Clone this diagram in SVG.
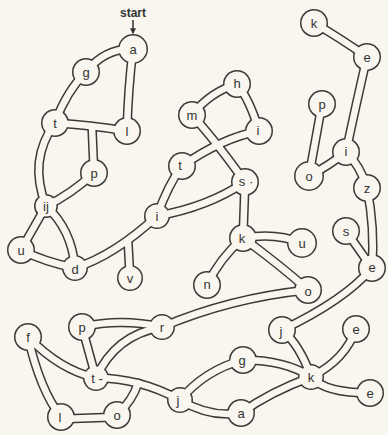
<svg xmlns="http://www.w3.org/2000/svg" xmlns:xlink="http://www.w3.org/1999/xlink" width="388" height="435" viewBox="0 0 388 435">
<style>
.bg{fill:#f8f6ee}
.outer{fill:none;stroke:#3a3a3a;stroke-width:9.5;stroke-linecap:round;stroke-linejoin:round}
.inner{fill:none;stroke:#f8f6ee;stroke-width:6.5;stroke-linecap:round;stroke-linejoin:round}
.rim{fill:#3a3a3a}
.node circle{fill:#f8f6ee}
.node text,.label{font-family:"Liberation Sans",Arial,sans-serif;font-size:13px;fill:#333;text-anchor:middle;dominant-baseline:central}
.label{font-size:12px;font-weight:bold}
.arrow{stroke:#333;stroke-width:1.5;fill:none}
</style>
<defs>
<marker id="ah" viewBox="0 0 10 10" refX="8" refY="5" markerWidth="6" markerHeight="6" orient="auto" markerUnits="userSpaceOnUse">
<path d="M0,0 L10,5 L0,10 z" fill="#333"/>
</marker>
</defs>
<rect class="bg" x="0" y="0" width="388" height="435"/>
<g class="outer">
<g id="connectors">
<path d="M86,72 Q105,48 133,49"/>
<path d="M133,49 Q128,90 127,131"/>
<path d="M86,72 Q66,92 55,123"/>
<path d="M55,123 Q90,125 127,131"/>
<path d="M94,173 L92,127"/>
<path d="M55,123 Q28,160 46,206"/>
<path d="M94,173 Q70,195 46,206"/>
<path d="M46,206 L21,250"/>
<path d="M46,206 Q72,230 75,268"/>
<path d="M21,250 Q45,262 75,268"/>
<path d="M75,268 Q115,255 157,216"/>
<path d="M130,278 L128,241"/>
<path d="M157,216 Q168,185 182,166"/>
<path d="M157,216 Q208,207 245,182"/>
<path d="M192,115 Q210,92 237,84"/>
<path d="M237,84 Q250,100 259,131"/>
<path d="M192,115 Q215,140 245,182"/>
<path d="M259,131 Q222,138 182,166"/>
<path d="M245,182 L243,238"/>
<path d="M243,238 Q275,232 302,243"/>
<path d="M243,238 Q220,258 207,285"/>
<path d="M243,238 Q280,265 308,290"/>
<path d="M308,290 Q230,298 162,327"/>
<path d="M314,23 Q340,38 367,57"/>
<path d="M367,57 Q357,100 346,152"/>
<path d="M322,104 L309,176"/>
<path d="M309,176 Q330,165 346,152"/>
<path d="M346,152 Q360,165 367,188"/>
<path d="M367,188 Q375,228 372,268"/>
<path d="M346,231 L372,268"/>
<path d="M372,268 Q345,300 282,330"/>
<path d="M282,330 Q300,345 311,377"/>
<path d="M356,329 Q345,360 311,377"/>
<path d="M311,377 Q325,393 370,393"/>
<path d="M243,360 Q285,360 311,377"/>
<path d="M241,413 Q270,392 311,377"/>
<path d="M243,360 Q205,370 180,400"/>
<path d="M241,413 Q210,418 180,400"/>
<path d="M96,378 Q140,378 180,400"/>
<path d="M117,415 Q133,400 138,383"/>
<path d="M96,378 L82,327"/>
<path d="M96,378 Q115,335 162,327"/>
<path d="M82,327 Q120,318 162,327"/>
<path d="M28,337 Q60,370 96,378"/>
<path d="M28,337 Q40,390 61,417"/>
<path d="M61,419 L117,417"/>
</g>
</g>
<g id="node-rims" class="rim">
<circle cx="133" cy="49" r="15"/>
<circle cx="86" cy="72" r="14"/>
<circle cx="55" cy="123" r="14"/>
<circle cx="127" cy="131" r="14"/>
<circle cx="94" cy="173" r="14"/>
<circle cx="46" cy="206" r="12"/>
<circle cx="21" cy="250" r="14"/>
<circle cx="75" cy="268" r="13"/>
<circle cx="130" cy="278" r="13"/>
<circle cx="157" cy="216" r="13"/>
<circle cx="182" cy="166" r="14"/>
<circle cx="192" cy="115" r="14"/>
<circle cx="237" cy="84" r="14"/>
<circle cx="259" cy="131" r="14"/>
<circle cx="245" cy="182" r="14"/>
<circle cx="243" cy="238" r="14"/>
<circle cx="302" cy="243" r="15"/>
<circle cx="207" cy="285" r="14"/>
<circle cx="308" cy="290" r="14"/>
<circle cx="314" cy="23" r="14"/>
<circle cx="367" cy="57" r="14"/>
<circle cx="322" cy="104" r="14"/>
<circle cx="346" cy="152" r="14"/>
<circle cx="309" cy="176" r="15"/>
<circle cx="367" cy="188" r="14"/>
<circle cx="346" cy="231" r="14"/>
<circle cx="372" cy="268" r="14"/>
<circle cx="282" cy="330" r="14"/>
<circle cx="356" cy="329" r="14"/>
<circle cx="311" cy="377" r="13"/>
<circle cx="370" cy="393" r="14"/>
<circle cx="243" cy="360" r="14"/>
<circle cx="241" cy="413" r="14"/>
<circle cx="180" cy="400" r="13"/>
<circle cx="117" cy="415" r="14"/>
<circle cx="61" cy="417" r="14"/>
<circle cx="28" cy="337" r="14"/>
<circle cx="82" cy="327" r="14"/>
<circle cx="96" cy="378" r="13"/>
<circle cx="162" cy="327" r="13"/>
</g>
<use xlink:href="#connectors" href="#connectors" class="inner"/>
<g id="nodes">
<g id="node-a" class="node"><circle cx="133" cy="49" r="13.5"/><text x="133" y="49">a</text></g>
<g id="node-g" class="node"><circle cx="86" cy="72" r="12.5"/><text x="86" y="72">g</text></g>
<g id="node-t1" class="node"><circle cx="55" cy="123" r="12.5"/><text x="55" y="123">t</text></g>
<g id="node-l1" class="node"><circle cx="127" cy="131" r="12.5"/><text x="127" y="131">l</text></g>
<g id="node-p1" class="node"><circle cx="94" cy="173" r="12.5"/><text x="94" y="173">p</text></g>
<g id="node-ij" class="node"><circle cx="46" cy="206" r="10.5"/><text x="46" y="206">ij</text></g>
<g id="node-u1" class="node"><circle cx="21" cy="250" r="12.5"/><text x="21" y="250">u</text></g>
<g id="node-d" class="node"><circle cx="75" cy="268" r="11.5"/><text x="75" y="269">d</text></g>
<g id="node-v" class="node"><circle cx="130" cy="278" r="11.5"/><text x="130" y="278">v</text></g>
<g id="node-i1" class="node"><circle cx="157" cy="216" r="11.5"/><text x="157" y="216">i</text></g>
<g id="node-t2" class="node"><circle cx="182" cy="166" r="12.5"/><text x="180" y="165">t</text></g>
<g id="node-m" class="node"><circle cx="192" cy="115" r="12.5"/><text x="192" y="115">m</text></g>
<g id="node-h" class="node"><circle cx="237" cy="84" r="12.5"/><text x="237" y="83">h</text></g>
<g id="node-i2" class="node"><circle cx="259" cy="131" r="12.5"/><text x="258" y="130">i</text></g>
<g id="node-s1" class="node"><circle cx="245" cy="182" r="12.5"/><text x="246" y="181">s ·</text></g>
<g id="node-k1" class="node"><circle cx="243" cy="238" r="12.5"/><text x="242" y="238">k</text></g>
<g id="node-u2" class="node"><circle cx="302" cy="243" r="13.5"/><text x="302" y="243">u</text></g>
<g id="node-n" class="node"><circle cx="207" cy="285" r="12.5"/><text x="207" y="284">n</text></g>
<g id="node-o1" class="node"><circle cx="308" cy="290" r="12.5"/><text x="308" y="291">o</text></g>
<g id="node-k2" class="node"><circle cx="314" cy="23" r="12.5"/><text x="314" y="23">k</text></g>
<g id="node-e1" class="node"><circle cx="367" cy="57" r="12.5"/><text x="367" y="57">e</text></g>
<g id="node-p2" class="node"><circle cx="322" cy="104" r="12.5"/><text x="322" y="104">p</text></g>
<g id="node-i3" class="node"><circle cx="346" cy="152" r="12.5"/><text x="346" y="151">i</text></g>
<g id="node-o2" class="node"><circle cx="309" cy="176" r="13.5"/><text x="309" y="176">o</text></g>
<g id="node-z" class="node"><circle cx="367" cy="188" r="12.5"/><text x="367" y="188">z</text></g>
<g id="node-s2" class="node"><circle cx="346" cy="231" r="12.5"/><text x="346" y="231">s</text></g>
<g id="node-e2" class="node"><circle cx="372" cy="268" r="12.5"/><text x="372" y="267">e</text></g>
<g id="node-j1" class="node"><circle cx="282" cy="330" r="12.5"/><text x="281" y="331">j</text></g>
<g id="node-e3" class="node"><circle cx="356" cy="329" r="12.5"/><text x="356" y="329">e</text></g>
<g id="node-k3" class="node"><circle cx="311" cy="377" r="11.5"/><text x="311" y="377">k</text></g>
<g id="node-e4" class="node"><circle cx="370" cy="393" r="12.5"/><text x="370" y="393">e</text></g>
<g id="node-g2" class="node"><circle cx="243" cy="360" r="12.5"/><text x="242" y="360">g</text></g>
<g id="node-a2" class="node"><circle cx="241" cy="413" r="12.5"/><text x="241" y="413">a</text></g>
<g id="node-j2" class="node"><circle cx="180" cy="400" r="11.5"/><text x="178" y="400">j</text></g>
<g id="node-o3" class="node"><circle cx="117" cy="415" r="12.5"/><text x="117" y="415">o</text></g>
<g id="node-l2" class="node"><circle cx="61" cy="417" r="12.5"/><text x="60" y="417">l</text></g>
<g id="node-f" class="node"><circle cx="28" cy="337" r="12.5"/><text x="28" y="337">f</text></g>
<g id="node-p3" class="node"><circle cx="82" cy="327" r="12.5"/><text x="82" y="327">p</text></g>
<g id="node-t3" class="node"><circle cx="96" cy="378" r="11.5"/><text x="97" y="378">t -</text></g>
<g id="node-r" class="node"><circle cx="162" cy="327" r="11.5"/><text x="162" y="327">r</text></g>
</g>
<g id="start">
<text class="label" x="133" y="13">start</text>
<line class="arrow" x1="133" y1="20" x2="133" y2="33" marker-end="url(#ah)"/>
</g>
</svg>
